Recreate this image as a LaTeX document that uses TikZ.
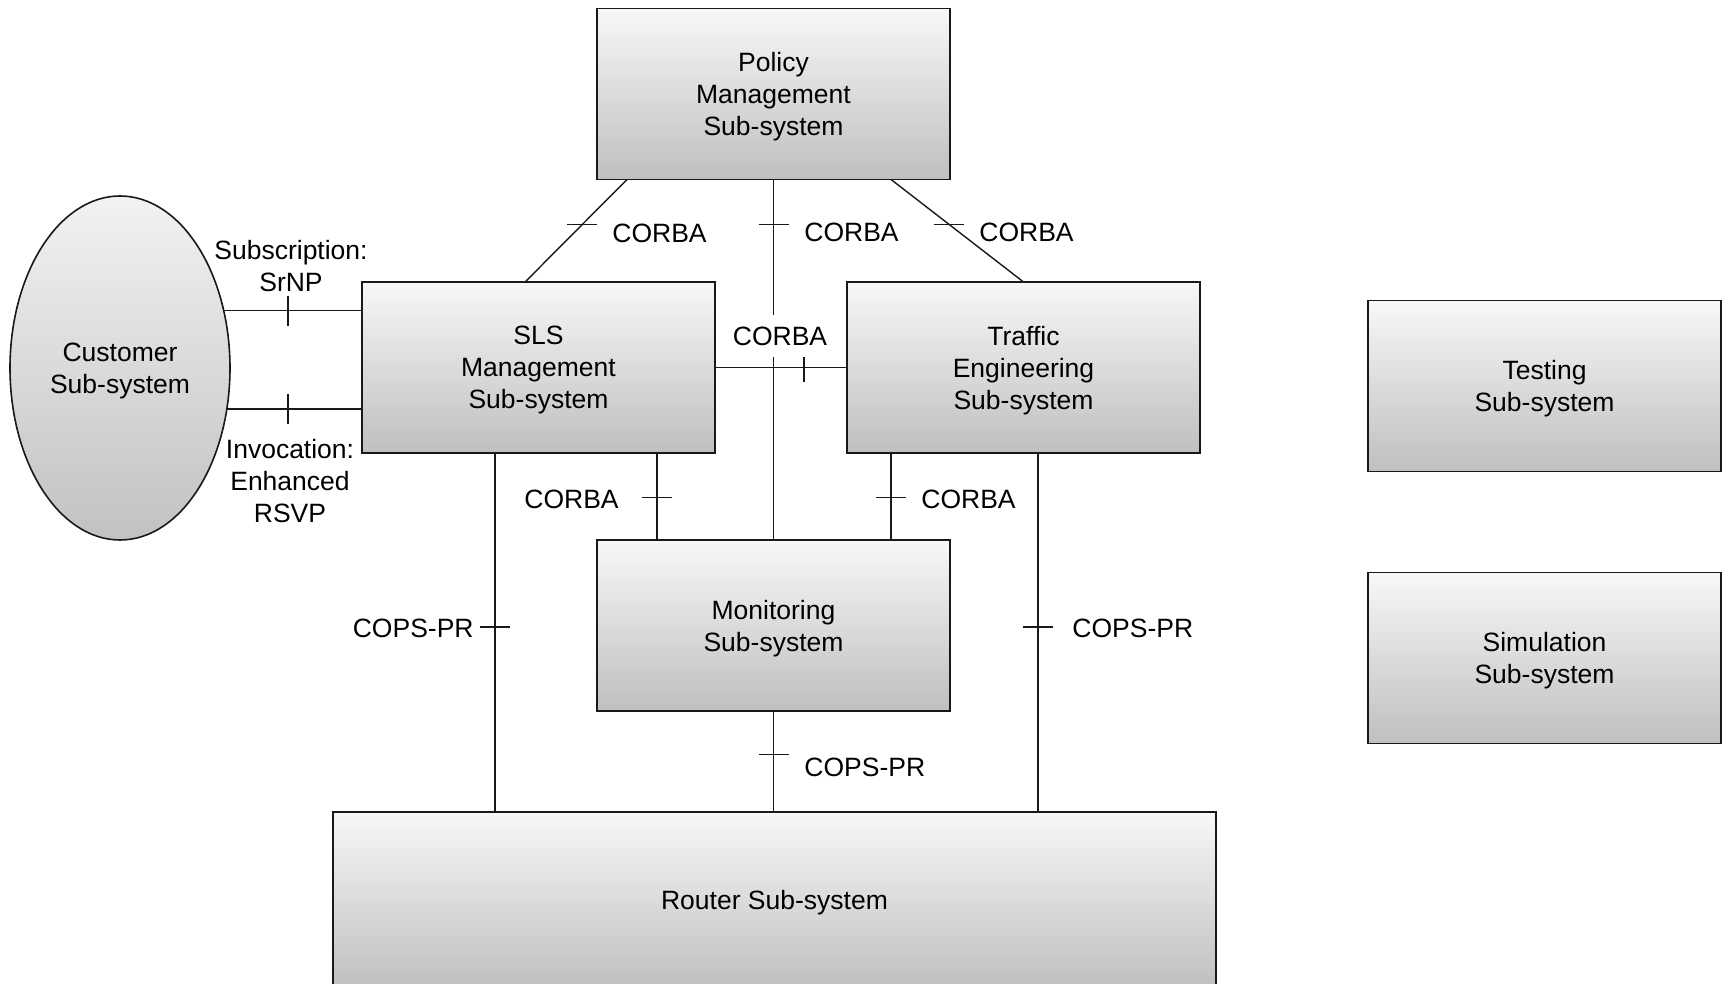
\documentclass[tikz,border=0pt]{standalone}
\usepackage{fontspec}
\setmainfont{Liberation Sans}
\usetikzlibrary{calc,shapes.geometric}
\tikzset{
  sub/.style={draw=black!90, line width=0.8pt, rectangle, top color=white!97!black, bottom color=black!25,
    minimum width=176.5pt, minimum height=85.5pt, align=center, inner sep=0pt, outer sep=0pt, text depth=0pt},
  conn/.style={line width=0.7pt, draw=black!90},
  lbl/.style={inner sep=0pt, align=center},
}
\newcommand\htick[1]{\draw[conn] ($(#1)+(-15,0)$) -- ($(#1)+(15,0)$);}
\newcommand\vtick[1]{\draw[conn] ($(#1)+(0,-15)$) -- ($(#1)+(0,15)$);}
\begin{document}
\begin{tikzpicture}[x=0.5pt,y=-0.5pt, font=\fontsize{13.25}{16}\selectfont]
\useasboundingbox (0,0) rectangle (1725,984);
% nodes
\node[sub] (pol) at (773.5,94) {Policy\\Management\\Sub-system};
\node[sub] (sls) at (538.5,367.5) {SLS\\Management\\Sub-system};
\node[sub] (tra) at (1023.5,367.5) {Traffic\\Engineering\\Sub-system};
\node[sub] (mon) at (773.5,625.5) {Monitoring\\Sub-system};
\node[sub, minimum width=441.5pt, minimum height=88pt] (rou) at (774.5,900) {Router Sub-system};
\node[sub] (tes) at (1544.5,386) {Testing\\Sub-system};
\node[sub] (sim) at (1544.5,658) {Simulation\\Sub-system};
\node[ellipse, draw=black!90, line width=0.8pt, top color=white!95!black, bottom color=black!24,
  minimum width=110pt, minimum height=172pt, inner sep=0pt, outer sep=0pt, align=center, text depth=0pt]
  (cust) at (120,368) {Customer\\Sub-system};
% helper coordinates
\coordinate (m1) at ($(mon.north west)+(60,0)$);
\coordinate (m2) at ($(mon.north west)+(294,0)$);
\coordinate (r1) at ($(sls.south west)+(133,0)$);
\coordinate (r2) at ($(tra.south west)+(191,0)$);
% connectors
\draw[conn] ($(pol.south west)!0.085!(pol.south east)$) -- coordinate[pos=0.437] (t1) ($(sls.north west)!0.462!(sls.north east)$);
\htick{t1}
\draw[conn] (pol.south) -- coordinate[pos=0.125] (t2) (mon.north);
\htick{t2}
\draw[conn] ($(pol.south west)!0.833!(pol.south east)$) -- coordinate[pos=0.437] (t3) (tra.north);
\htick{t3}
\draw[conn] (sls.east) -- coordinate[pos=0.674] (t4) (tra.west);
\vtick{t4}
\draw[conn] (cust.29.2) -- coordinate[pos=0.464] (t5) (cust.29.2 -| sls.west);
\vtick{t5}
\draw[conn] (cust.-21.5) -- coordinate[pos=0.452] (t6) (cust.-21.5 -| sls.west);
\vtick{t6}
\draw[conn] (m1 |- sls.south) -- coordinate[pos=0.51] (t7) (m1);
\htick{t7}
\draw[conn] (m2 |- tra.south) -- coordinate[pos=0.51] (t8) (m2);
\htick{t8}
\draw[conn] (r1) -- coordinate[pos=0.485] (t9) (r1 |- rou.north);
\htick{t9}
\draw[conn] (r2) -- coordinate[pos=0.485] (t10) (r2 |- rou.north);
\htick{t10}
\draw[conn] (mon.south) -- coordinate[pos=0.43] (t11) (mon.south |- rou.north);
\htick{t11}
% labels
\node[lbl, anchor=west] (l1) at (612,233) {CORBA};
\node[lbl, anchor=west] (l2) at (804,232) {CORBA};
\node[lbl, anchor=west] (l3) at (979,232) {CORBA};
\node[lbl, fill=white, inner xsep=2pt, inner ysep=6pt] (l4) at (780,336) {CORBA};
\node[lbl] (l5) at (291,266) {Subscription:\\SrNP};
\node[lbl] (l6) at (290,481) {Invocation:\\Enhanced\\RSVP};
\node[lbl, anchor=east] (l7) at (619,499) {CORBA};
\node[lbl, anchor=west] (l8) at (921,499) {CORBA};
\node[lbl, anchor=east] (l9) at (474,628) {COPS-PR};
\node[lbl, anchor=west] (l10) at (1072,628) {COPS-PR};
\node[lbl, anchor=west] (l11) at (804,767) {COPS-PR};
\end{tikzpicture}
\end{document}
